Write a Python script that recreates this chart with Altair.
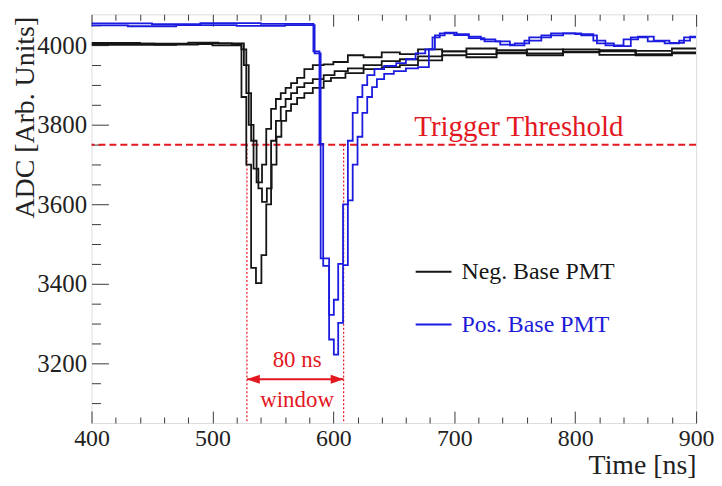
import altair as alt
import pandas as pd

FONT = "Liberation Serif"
NEG = "Neg. Base PMT"
POS = "Pos. Base PMT"

# ---- waveform change points (time [ns], ADC) : step histograms ----
neg1_t = [400, 452, 488, 516, 524, 528, 532, 536, 540.5, 544.5, 548.5, 552.5, 556.5, 560.5, 565, 570, 576, 583, 592, 601, 612, 625, 640, 655, 670, 690, 710, 735, 760, 790, 820, 850, 880]
neg1_v = [4004, 4002, 4005, 4003, 3870, 3700, 3440, 3402, 3472, 3600, 3760, 3810, 3845, 3865, 3880, 3895, 3905, 3915, 3925, 3935, 3942, 3950, 3960, 3965, 3972, 3985, 3978, 3988, 3980, 3990, 3985, 3978, 3982]

neg2_t = [400, 440, 480, 505, 526, 530, 534, 538, 541, 545, 549, 553, 557, 561, 565, 570, 576, 583, 592, 598, 610, 625, 640, 655, 670, 690, 710, 735, 760, 790, 820, 850, 880]
neg2_v = [4006, 4004, 4007, 4005, 3950, 3800, 3690, 3640, 3606, 3640, 3700, 3770, 3810, 3835, 3852, 3868, 3880, 3893, 3910, 3918, 3930, 3940, 3945, 3950, 3962, 3975, 3970, 3980, 3975, 3982, 3988, 3975, 3980]

neg3_t = [400, 470, 500, 524, 528, 532, 536.5, 541, 544.5, 548.5, 552.5, 556.5, 560.5, 565, 570, 576, 583, 592, 600, 612, 625, 640, 655, 670, 690, 710, 735, 760, 790, 820, 850, 880]
neg3_v = [4001, 4003, 4000, 3990, 3880, 3760, 3655, 3700, 3790, 3840, 3865, 3880, 3893, 3905, 3918, 3940, 3950, 3952, 3958, 3975, 3970, 3982, 3978, 3990, 3985, 3992, 3982, 3990, 3984, 3976, 3986, 3992]

pos1_t = [400, 430, 470, 520, 560, 584.5, 589.5, 596.5, 600.4, 604, 608, 612, 616, 620, 624, 628, 632, 636, 642, 650, 660, 670, 679, 684, 692, 702, 712, 722, 734, 746, 758, 772, 790, 805, 818, 832, 846, 860, 874, 886, 895]
pos1_v = [4050, 4048, 4051, 4049, 4051, 3980, 3464, 3260, 3222, 3302, 3447, 3610, 3700, 3770, 3830, 3870, 3895, 3915, 3928, 3935, 3942, 3945, 3990, 4025, 4032, 4028, 4022, 4015, 4010, 4000, 4012, 4025, 4030, 4025, 4005, 3998, 4020, 4010, 4005, 4012, 4022]

pos2_t = [400, 450, 490, 540, 583.5, 588.5, 591.6, 596.5, 600.4, 604, 608, 612, 616, 620, 624, 628, 634, 642, 652, 660, 668, 676, 682, 688, 700, 712, 725, 738, 750, 762, 780, 800, 815, 825, 840, 852, 865, 878, 890]
pos2_v = [4055, 4053, 4056, 4054, 3985, 3752, 3445, 3322, 3360, 3450, 3600, 3760, 3830, 3870, 3900, 3925, 3940, 3948, 3955, 3965, 3980, 3990, 4020, 4030, 4026, 4018, 4010, 4002, 4005, 4020, 4030, 4028, 4012, 4000, 4015, 4022, 4012, 4006, 4020]

# ---- axes / annotations ----
x_major = [400, 500, 600, 700, 800, 900]
x_minor = [420, 440, 460, 480, 520, 540, 560, 580, 620, 640, 660, 680, 720, 740, 760, 780, 820, 840, 860, 880]
y_major = [3200, 3400, 3600, 3800, 4000]
y_minor = [3100, 3150, 3250, 3300, 3350, 3450, 3500, 3550, 3650, 3700, 3750, 3850, 3900, 3950, 4050]
X_DOMAIN = [400, 900]
Y_DOMAIN = [3050, 4078]

threshold = 3750
window_edges = [528.5, 608.5]
arrow_level = 3160
label_80ns = ("80 ns", 570, 3190)
label_window = ("window", 570, 3090)
label_thr = ("Trigger Threshold", 667, 3772)

RED = "#e3171f"
BLACK = "#151515"
BLUE = "#1c1ce0"

rows = []
for name, series, ts, vs in [
    ("n1", NEG, neg1_t, neg1_v), ("n2", NEG, neg2_t, neg2_v), ("n3", NEG, neg3_t, neg3_v),
    ("p1", POS, pos1_t, pos1_v), ("p2", POS, pos2_t, pos2_v),
]:
    for t, v in zip(ts, vs):
        rows.append({"trace": name, "series": series, "t": t, "v": v})
    rows.append({"trace": name, "series": series, "t": X_DOMAIN[1], "v": vs[-1]})
df = pd.DataFrame(rows)

xs = alt.Scale(domain=X_DOMAIN, nice=False, zero=False)
ys = alt.Scale(domain=Y_DOMAIN, nice=False, zero=False)

common_axis = dict(domain=False, grid=False, tickColor="#3a3a3a", tickWidth=1,
                   labelFont=FONT, labelColor="#222222", titleFont=FONT,
                   titleColor="#222222", titleFontWeight="normal")

x_axis_main = alt.Axis(orient="bottom", values=x_major, tickSize=12, offset=-12,
                       labelFontSize=24, labelPadding=4, labelFlush=False, format="d",
                       title="Time [ns]", titleFontSize=28, titleAlign="right",
                       titleAnchor="end", titleX=608, titleY=63, titleBaseline="alphabetic",
                       **common_axis)
y_axis_main = alt.Axis(orient="left", values=y_major, tickSize=17, offset=-17,
                       labelFontSize=25, labelPadding=5, format="d",
                       title="ADC [Arb. Units]", titleFontSize=28, titleAngle=270,
                       titleAlign="right", titleAnchor="end", titleX=-75, titleY=2,
                       titleBaseline="alphabetic", **common_axis)

legend = alt.Legend(orient="none", legendX=325, legendY=240, title=None,
                    symbolType="stroke", symbolSize=1296, symbolStrokeWidth=2,
                    labelFont=FONT, labelFontSize=24, labelOffset=9, rowPadding=22,
                    labelColor=alt.ExprRef(expr="datum.label === 'Pos. Base PMT' ? '#1c1cd8' : '#151515'"))

traces = alt.Chart(df).mark_line(interpolate="step-after", strokeWidth=1.8, clip=True).encode(
    x=alt.X("t:Q", scale=xs, axis=x_axis_main),
    y=alt.Y("v:Q", scale=ys, axis=y_axis_main),
    color=alt.Color("series:N", scale=alt.Scale(domain=[NEG, POS], range=[BLACK, BLUE]), legend=legend),
    detail="trace:N",
)

def tick_layer(vals, channel, axis):
    d = pd.DataFrame({"val": vals})
    if channel == "x":
        enc = {"x": alt.X("val:Q", scale=xs, axis=axis)}
    else:
        enc = {"y": alt.Y("val:Q", scale=ys, axis=axis)}
    return alt.Chart(d).mark_rule(opacity=0).encode(**enc)

minor_common = dict(labels=False, title=None, **common_axis)
x_minor_bottom = tick_layer(x_minor, "x", alt.Axis(orient="bottom", values=x_minor, tickSize=6, offset=-6, **minor_common))
x_major_top = tick_layer(x_major, "x", alt.Axis(orient="top", values=x_major, tickSize=12, offset=-12, **minor_common))
x_minor_top = tick_layer(x_minor, "x", alt.Axis(orient="top", values=x_minor, tickSize=6, offset=-6, **minor_common))
y_minor_left = tick_layer(y_minor, "y", alt.Axis(orient="left", values=y_minor, tickSize=9, offset=-9, **minor_common))

thr_line = alt.Chart(pd.DataFrame({"v": [threshold]})).mark_rule(
    color=RED, strokeDash=[7, 4], strokeWidth=2).encode(y=alt.Y("v:Q", scale=ys, axis=None))

win_df = pd.DataFrame({"t": window_edges, "top": [threshold] * 2, "bottom": [Y_DOMAIN[0]] * 2})
win_lines = alt.Chart(win_df).mark_rule(color=RED, strokeDash=[2, 2], strokeWidth=1.2).encode(
    x=alt.X("t:Q", scale=xs, axis=None), y=alt.Y("top:Q", scale=ys, axis=None), y2="bottom:Q")

arrow_df = pd.DataFrame({"t0": [window_edges[0]], "t1": [window_edges[1]], "v": [arrow_level]})
arrow_line = alt.Chart(arrow_df).mark_rule(color=RED, strokeWidth=2).encode(
    x=alt.X("t0:Q", scale=xs, axis=None), x2="t1:Q", y=alt.Y("v:Q", scale=ys, axis=None))

head_df = pd.DataFrame({"t": window_edges, "v": [arrow_level] * 2,
                        "shape": ["M0,0L2,-0.7L2,0.7Z", "M0,0L-2,-0.7L-2,0.7Z"]})
heads = alt.Chart(head_df).mark_point(filled=True, color=RED, size=169, opacity=1).encode(
    x=alt.X("t:Q", scale=xs, axis=None), y=alt.Y("v:Q", scale=ys, axis=None),
    shape=alt.Shape("shape:N", scale=None))

txt_df = pd.DataFrame([
    {"txt": label_80ns[0], "t": label_80ns[1], "v": label_80ns[2]},
    {"txt": label_window[0], "t": label_window[1], "v": label_window[2]},
])
texts = alt.Chart(txt_df).mark_text(font=FONT, fontSize=23, color=RED, align="center",
                                    baseline="alphabetic").encode(
    x=alt.X("t:Q", scale=xs, axis=None), y=alt.Y("v:Q", scale=ys, axis=None), text="txt:N")

thr_txt = alt.Chart(pd.DataFrame({"txt": [label_thr[0]], "t": [label_thr[1]], "v": [label_thr[2]]})).mark_text(
    font=FONT, fontSize=29, color=RED, align="left", baseline="alphabetic").encode(
    x=alt.X("t:Q", scale=xs, axis=None), y=alt.Y("v:Q", scale=ys, axis=None), text="txt:N")

chart = alt.layer(
    x_minor_bottom, x_major_top, x_minor_top, y_minor_left,
    thr_line, win_lines, arrow_line, heads, texts, thr_txt, traces,
).resolve_axis(x="independent", y="independent").properties(
    width=608, height=411,
    autosize=alt.AutoSizeParams(type="none"),
    padding={"left": 84, "top": 5, "right": 18, "bottom": 60},
).configure_view(stroke="#333333", strokeWidth=1.2, fill="white").configure(background="white")

chart.save("out.html", embed_options={"renderer": "svg", "actions": False})
